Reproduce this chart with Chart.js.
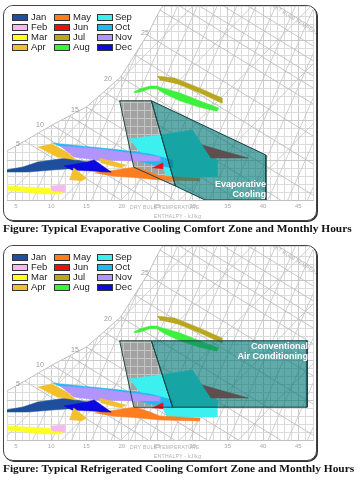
<!DOCTYPE html>
<html><head><meta charset="utf-8">
<script src="https://cdn.jsdelivr.net/npm/chart.js@4/dist/chart.umd.min.js"></script>
<style>
html,body{margin:0;padding:0;background:#fff;width:362px;height:481px;overflow:hidden;}
.panel{position:absolute;left:3px;width:314px;height:216px;box-sizing:border-box;border:1px solid #444;border-radius:10px;overflow:hidden;box-shadow:1px 1px 0 #333;background:#fff;}
.panel canvas{position:absolute;left:0;top:0;}
.lg{position:absolute;font:9.5px "Liberation Sans",Arial,sans-serif;color:#222;line-height:10px;white-space:nowrap;}
.sw{position:absolute;width:16px;height:7px;box-sizing:border-box;border:1px solid #333;}
.sat{position:absolute;font:7px "Liberation Sans",Arial,sans-serif;color:#9a9a9a;transform:translate(-50%,-50%);}
.faint{position:absolute;font:5px "Liberation Sans",Arial,sans-serif;color:#b0b0b0;white-space:nowrap;letter-spacing:0.3px;}
.zt{position:absolute;font:bold 9px "Liberation Sans",Arial,sans-serif;color:#fff;line-height:10px;text-align:right;white-space:nowrap;}
.cap{position:absolute;left:3px;font:bold 11.4px "Liberation Serif","Times New Roman",serif;color:#111;white-space:nowrap;line-height:13px;}
</style></head>
<body>
<div class="panel" id="p1" style="top:5px"><canvas id="c1" width="312" height="214"></canvas></div>
<div class="cap" style="top:222px">Figure: Typical Evaporative Cooling Comfort Zone and Monthly Hours</div>
<div class="panel" id="p2" style="top:245px"><canvas id="c2" width="312" height="214"></canvas></div>
<div class="cap" style="top:462px">Figure: Typical Refrigerated Cooling Comfort Zone and Monthly Hours</div>
<script>
// ---------- axis ranges (dry bulb °C, humidity ratio g/kg) ----------
const X_MIN = 3.75, X_MAX = 47.08;
const Y_MIN = 0, Y_MAX = 24.25;
const X_TICK_LABELS = [5, 10, 15, 20, 25, 30, 35, 40, 45];

// ---------- months ----------
const MONTHS = ['Jan','Feb','Mar','Apr','May','Jun','Jul','Aug','Sep','Oct','Nov','Dec'];

// monthly hours envelopes: [dry bulb °C, humidity ratio g/kg]
const JAN = [[[3.6,3.75],[6.0,4.13],[8.1,4.75],[12.2,5.25],[15.7,4.63],[18.5,3.5],[17.1,3.5],[14.3,4.0],[10.1,3.75],[6.7,3.5],[3.6,3.5]]];
const FEB = [[[9.9,1.75],[11.9,1.88],[11.9,1.0],[10.1,1.13]]];
const MAR = [[[3.6,1.75],[9.4,1.5],[11.5,1.13],[11.5,0.75],[8.75,0.75],[3.6,1.25]]];
const APR = [[[8.1,6.63],[10.1,7.0],[12.2,6.0],[13.6,5.0],[10.8,5.38]],
             [[12.6,2.5],[13.2,4.0],[15.0,2.75],[14.3,2.38]],
             [[16.8,5.25],[20.6,4.38],[19.9,4.0],[17.1,4.63]]];
const MAY = [[[16.1,3.38],[19.2,3.75],[21.9,4.13],[24.0,3.5],[25.4,3.0],[31.0,2.75],[31.0,2.38],[25.4,2.5],[22.6,2.75],[18.5,3.0]]];
const JUN = [[[24.3,4.0],[25.8,4.63],[25.8,3.88]],
             [[31.4,6.88],[37.9,5.25],[32.6,5.25]]];
const JUL = [[[25.0,15.5],[27.5,15.25],[31.0,14.0],[34.2,12.75],[34.2,12.1],[31.0,13.4],[27.9,14.5],[25.4,15.0]]];
const AUG = [[[21.7,13.5],[22.6,13.9],[24.0,14.25],[25.0,14.25],[25.4,14.1],[28.2,13.4],[31.0,12.4],[33.75,11.5],[33.5,11.1],[31.0,11.6],[28.2,12.4],[25.8,13.4],[25.0,13.9],[24.0,13.9],[22.6,13.5],[21.8,13.4]]];
const SEP = [[[21.0,7.63],[25.4,8.13],[30.0,8.75],[31.4,6.88],[33.5,5.0],[33.5,2.88],[26.4,2.88],[25.8,4.13],[22.6,6.0]]];
const OCT = [[[10.1,7.13],[12.9,6.88],[19.9,6.25],[24.0,5.75],[27.2,5.0],[27.2,4.0],[24.0,4.5],[19.9,5.5],[14.3,6.25],[11.5,6.63]]];
const NOV = [[[11.25,6.75],[15.7,6.5],[21.25,5.88],[25.4,5.38],[25.4,4.88],[21.25,4.88],[16.4,5.0],[13.2,5.38]]];
const DEC = [[[11.8,4.25],[15.0,4.75],[16.1,5.0],[17.1,4.38],[18.5,3.5],[15.7,3.63],[12.9,3.75]]];
const MONTH_SHAPES = [JAN,FEB,MAR,APR,MAY,JUN,JUL,AUG,SEP,OCT,NOV,DEC];

// comfort zones
const EVAP_HUMID_PART = [[19.7,12.4],[24.2,12.4],[27.6,1.75],[21.7,4.1]];
const EVAP_ZONE = [[24.2,12.4],[40.4,5.63],[40.4,0],[31.8,0],[27.6,1.75]];
const AC_HUMID_PART = [[19.7,12.4],[24.2,12.4],[27.2,4.1],[21.7,4.1]];
const AC_ZONE = [[24.2,12.4],[46.25,12.4],[46.25,4.1],[27.2,4.1]];

// psychrometric chart background
const SATURATION = [[3.75,6.13],[6.25,7.38],[10.14,9.38],[15.0,11.63],[19.86,15.38],[23.61,20.63],[25.42,23.75],[25.83,24.25]];
const SAT_LABELS = ['5','10','15','20','25'];
const WETBULB_LINES = [[6.25,7.38,19.86,0],[8.2,8.4,23.75,0],[10.14,9.38,27.5,0],[12.6,10.5,32.1,0],[15.0,11.63,36.5,0],[17.5,13.5,42.5,0],[19.86,15.38,47.1,0.6],[21.9,18.1,47.1,4.5],[23.61,20.63,47.1,8.0],[25.42,23.75,47.1,12.0],[28.2,24.25,47.1,14.0],[31.0,24.25,47.1,15.5],[34.4,24.25,47.1,17.4],[37.9,24.25,47.1,19.25],[42.1,24.25,47.1,21.5]];
const VOLUME_LINES = [[7.4,0,19.6,24.25],[10.1,0,22.4,24.25],[12.9,0,25.1,24.25],[15.7,0,27.9,24.25],[18.5,0,30.7,24.25],[21.25,0,33.5,24.25],[24.0,0,36.3,24.25],[26.8,0,39.0,24.25],[29.6,0,41.8,24.25],[32.4,0,44.6,24.25],[35.1,0,47.3,24.25],[37.9,0,50.1,24.25],[40.7,0,52.9,24.25],[43.5,0,55.7,24.25],[46.3,0,58.5,24.25]];
const RH_LINES = [[-5.1,0,21.8,24.25],[3.2,0,30.1,24.25],[11.5,0,38.5,24.25],[19.9,0,46.8,24.25],[28.2,0,55.1,24.25],[36.5,0,63.5,24.25]];

// ---------- styles ----------
const MONTH_COLORS = ['#1f4e9e','#f7b8ee','#ffff22','#f2c02a','#ff7d1e','#ee1010','#b8a820','#3cf03c','#3cf0f0','#20b8f0','#b094ff','#0a0ae0'];
const MONTH_ORDER = {Feb:10,Mar:11,Apr:12,Dec:13,Jan:14,May:15,Jun:16,Nov:17,Oct:18,Jul:19,Aug:20,Sep:21};

function pts(a){return a.map(p=>({x:p[0],y:p[1]}));}
function closed(a){return pts(a.concat([a[0]]));}
function grayPattern(){
  const c=document.createElement('canvas');c.width=7;c.height=8;
  const g=c.getContext('2d');g.fillStyle='#a2a2a2';g.fillRect(0,0,7,8);
  g.fillStyle='#c4c4c4';g.fillRect(0,0,7,1);g.fillRect(0,0,1,8);
  return g.createPattern(c,'repeat');
}
function polyDs(a,color,order){
  return {data:pts(a),showLine:true,fill:'shape',backgroundColor:color,borderColor:color,borderWidth:0.5,pointRadius:0,tension:0,order};
}
function lineDs(l,color,w,order){
  return {data:[{x:l[0],y:l[1]},{x:l[2],y:l[3]}],showLine:true,fill:false,borderColor:color,borderWidth:w,pointRadius:0,order};
}
function build(id, humidPart, zone){
  const ds=[];
  WETBULB_LINES.forEach(l=>ds.push(lineDs(l,'#b8b8b8',0.8,60)));
  VOLUME_LINES.forEach(l=>ds.push(lineDs(l,'#c4c4c4',0.8,61)));
  RH_LINES.forEach(l=>ds.push(lineDs(l,'#c4c4c4',0.8,62)));
  ds.push({data:pts(SATURATION),showLine:true,fill:'end',backgroundColor:'#ffffff',borderColor:'#b0b0b0',borderWidth:0.8,pointRadius:0,order:40});
  ds.push(polyDs(humidPart,grayPattern(),30));
  MONTHS.forEach((m,i)=>{
    MONTH_SHAPES[i].forEach(piece=>ds.push(polyDs(piece,MONTH_COLORS[i],MONTH_ORDER[m])));
  });
  ds.push(polyDs(zone,'rgba(0,118,118,0.62)',2));
  [humidPart,zone].forEach(z=>ds.push({data:closed(z),showLine:true,fill:false,borderColor:'#1d4646',borderWidth:1,pointRadius:0,order:1}));
  const gridColor=ctx=>{const v=ctx.tick?ctx.tick.value:0;return (Number.isInteger(v)&&v%5===0)?'#cacaca':'#dcdcdc';};
  new Chart(document.getElementById(id),{
    type:'scatter',
    data:{datasets:ds},
    options:{
      responsive:false,animation:false,events:[],
      layout:{padding:0},
      plugins:{legend:{display:false},tooltip:{enabled:false}},
      scales:{
        x:{type:'linear',min:X_MIN,max:X_MAX,position:'bottom',
           afterFit:s=>{s.height=20;},
           border:{display:true,color:'#c0c0c0'},
           grid:{color:gridColor,lineWidth:1,drawTicks:false},
           ticks:{stepSize:1,autoSkip:false,maxRotation:0,minRotation:0,padding:3,color:'#a8a8a8',
                  font:{size:6,family:'Liberation Sans'},
                  callback:v=>X_TICK_LABELS.includes(v)?String(v):''}},
        y:{type:'linear',min:Y_MIN,max:Y_MAX,
           afterFit:s=>{s.width=0;},
           border:{display:false},
           grid:{color:gridColor,lineWidth:1,drawTicks:false},
           ticks:{display:false,stepSize:1}}
      }
    }
  });
}

function decorate(panelId, zoneText, zoneBox){
  const p=document.getElementById(panelId);
  const rows=[11,21,31,41], swX=[8,50,93], txX=[27,69,111];
  MONTHS.forEach((m,i)=>{
    const col=Math.floor(i/4), row=i%4;
    const s=document.createElement('div');s.className='sw';
    s.style.left=swX[col]+'px';s.style.top=(rows[row]-3.5)+'px';s.style.background=MONTH_COLORS[i];p.appendChild(s);
    const t=document.createElement('div');t.className='lg';t.textContent=m;
    t.style.left=txX[col]+'px';t.style.top=(rows[row]-5)+'px';p.appendChild(t);
  });
  const satPos=[[14,137],[36,118],[71,103],[104,72],[141,26]];
  SAT_LABELS.forEach((l,i)=>{const d=document.createElement('div');d.className='sat';d.textContent=l;d.style.left=satPos[i][0]+'px';d.style.top=satPos[i][1]+'px';p.appendChild(d);});
  const f1=document.createElement('div');f1.className='faint';f1.textContent='DRY BULB TEMPERATURE';f1.style.left='126px';f1.style.top='198px';p.appendChild(f1);
  const f2=document.createElement('div');f2.className='faint';f2.textContent='ENTHALPY - kJ/kg';f2.style.left='150px';f2.style.top='207px';p.appendChild(f2);
  const f3=document.createElement('div');f3.className='faint';f3.textContent='WET BULB TEMPERATURE';f3.style.left='262px';f3.style.top='14px';f3.style.transform='rotate(33deg)';p.appendChild(f3);
  const z=document.createElement('div');z.className='zt';z.innerHTML=zoneText;
  z.style.left=zoneBox[0]+'px';z.style.width=zoneBox[1]+'px';z.style.top=zoneBox[2]+'px';p.appendChild(z);
}

build('c1',EVAP_HUMID_PART,EVAP_ZONE);
build('c2',AC_HUMID_PART,AC_ZONE);
decorate('p1','Evaporative<br>Cooling',[150,112,173]);
decorate('p2','Conventional<br>Air Conditioning',[190,114,95]);
</script>
</body></html>
